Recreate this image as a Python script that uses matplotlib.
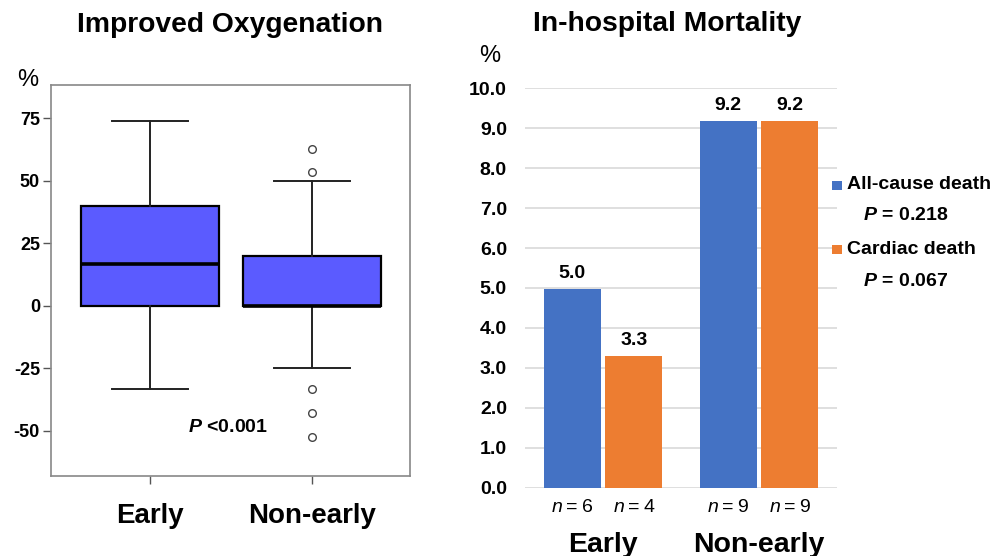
import matplotlib
matplotlib.use('Agg')
import matplotlib.pyplot as plt
import matplotlib.transforms as mtransforms
from matplotlib.patches import Rectangle

plt.rcParams['font.family'] = ['Liberation Sans', 'DejaVu Sans']
plt.rcParams['mathtext.fontset'] = 'custom'
plt.rcParams['mathtext.it'] = 'Liberation Sans:bold:italic'
plt.rcParams['mathtext.sf'] = 'Liberation Sans:italic'
plt.rcParams['mathtext.rm'] = 'Liberation Sans'

# left panel: improved oxygenation (box plot)
groups = ['Early', 'Non-early']
q1 = [0, 0]
medians = [16.7, 0]
q3 = [40, 20]
whisk_lo = [-33.3, -25]
whisk_hi = [74, 50]
fliers = [[], [62.5, 53.3, -33.3, -42.9, -52.6]]
p_box = 'P'
p_box_val = ' <0.001'

# right panel: in-hospital mortality (bars)
all_cause = [4.97, 9.17]
cardiac = [3.29, 9.17]
n_all = [6, 9]
n_card = [4, 9]
yticks_bar = [i * 1.0 for i in range(11)]
legend_names = ['All-cause death', 'Cardiac death']
legend_p = ['0.218', '0.067']

blue = '#4472C4'
orange = '#ED7D31'

fig = plt.figure(figsize=(9.95, 5.56), dpi=100)

# ---------- box plot ----------
ax1 = fig.add_axes([51 / 995, 80 / 556, 359 / 995, 391 / 556])
stats = []
for i in range(len(groups)):
    stats.append(dict(med=medians[i], q1=q1[i], q3=q3[i],
                      whislo=whisk_lo[i], whishi=whisk_hi[i],
                      fliers=fliers[i], label=groups[i]))
ax1.bxp(stats, positions=[1, 2], widths=0.846, capwidths=0.475,
        patch_artist=True, showfliers=True,
        boxprops=dict(facecolor='#5B5BFF', edgecolor='black', linewidth=1.6),
        medianprops=dict(color='black', linewidth=2.6),
        whiskerprops=dict(color='#222222', linewidth=1.4),
        capprops=dict(color='#222222', linewidth=1.4),
        flierprops=dict(marker='o', markersize=5.5, markerfacecolor='white',
                        markeredgecolor='#444444', markeredgewidth=1.0))
ax1.set_xlim(0.389, 2.605)
ax1.set_ylim(-68, 88.2)
ax1.set_yticks([75, 50, 25, 0, -25, -50])
ax1.set_yticklabels(['75', '50', '25', '0', '-25', '-50'],
                    fontsize=13, fontweight='bold')
ax1.set_xticks([1, 2])
ax1.set_xticklabels(['', ''])
ax1.tick_params(axis='both', length=6, width=1, color='#555555', pad=2)
for s in ax1.spines.values():
    s.set_color('#888888')
    s.set_linewidth(1.2)
trans1 = mtransforms.blended_transform_factory(ax1.transData, ax1.transAxes)
for i, g in enumerate(groups):
    ax1.text(i + 1, -0.119, g, transform=trans1, ha='center', va='baseline',
             fontsize=20, fontweight='bold')
ax1.text(1.48, -48.5, r'$' + p_box + r'$' + p_box_val, ha='center',
         va='center', fontsize=14, fontweight='bold')
fig.text(28 / 995, 1 - 80.5 / 556, '%', ha='center', va='center', fontsize=17)
fig.text(230.5 / 995, 1 - 25 / 556, 'Improved Oxygenation', ha='center',
         va='center', fontsize=20.3, fontweight='bold')

# ---------- bar chart ----------
ax2 = fig.add_axes([525 / 995, (556 - 487.7) / 556, 312 / 995, 399.4 / 556])
x = list(range(len(groups)))
off = 0.1985
w = 0.365
b1 = ax2.bar([v - off for v in x], all_cause, w, color=blue, zorder=3)
b2 = ax2.bar([v + off for v in x], cardiac, w, color=orange, zorder=3)
ax2.set_xlim(-0.5, 1.5)
ax2.set_ylim(0, 10)
ax2.set_yticks(yticks_bar)
ax2.set_yticklabels(['%.1f' % t for t in yticks_bar], fontsize=14,
                    fontweight='bold')
ax2.set_xticks([])
ax2.tick_params(axis='y', length=0, pad=13)
ax2.grid(axis='y', color='#D9D9D9', linewidth=1.2, zorder=0)
for s in ax2.spines.values():
    s.set_visible(False)
for bars, vals in ((b1, all_cause), (b2, cardiac)):
    for r, v in zip(bars, vals):
        ax2.text(r.get_x() + r.get_width() / 2, v + 0.4, '%.1f' % v,
                 ha='center', va='center', fontsize=14, fontweight='bold')
trans2 = mtransforms.blended_transform_factory(ax2.transData, ax2.transAxes)
for i in x:
    ax2.text(i - off, -0.049, '$\\mathsf{n}$\u2009=\u2009%d' % n_all[i],
             transform=trans2, ha='center', va='center', fontsize=14)
    ax2.text(i + off, -0.049, '$\\mathsf{n}$\u2009=\u2009%d' % n_card[i],
             transform=trans2, ha='center', va='center', fontsize=14)
    ax2.text(i, -0.16, groups[i], transform=trans2, ha='center',
             va='baseline', fontsize=20.5, fontweight='bold')
fig.text(490 / 995, 1 - 56 / 556, '%', ha='center', va='center', fontsize=17)
fig.text(666.7 / 995, 1 - 24 / 556, 'In-hospital Mortality', ha='center',
         va='center', fontsize=20.3, fontweight='bold')

# legend drawn by hand to keep the p-values under each entry
leg_y = [185, 250]
p_y = [216, 282]
for name, pv, col, ly, py in zip(legend_names, legend_p, [blue, orange],
                                 leg_y, p_y):
    fig.patches.append(Rectangle((832 / 995, 1 - (ly + 4.5) / 556),
                                 10 / 995, 9 / 556, transform=fig.transFigure,
                                 facecolor=col, edgecolor='none'))
    fig.text(847 / 995, 1 - ly / 556, name, fontsize=14, fontweight='bold',
             va='center', ha='left')
    fig.text(863 / 995, 1 - py / 556, r'$P$ = ' + pv, fontsize=14,
             fontweight='bold', va='center', ha='left')

fig.savefig('out.png', dpi=100)
